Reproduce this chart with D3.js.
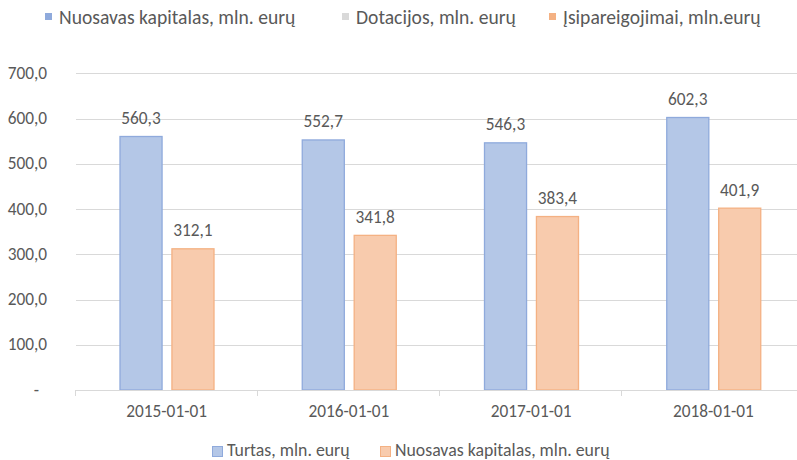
<!DOCTYPE html>
<html>
<head>
<meta charset="utf-8">
<script src="https://cdn.jsdelivr.net/npm/d3@7"></script>
<style>
  body { margin: 0; background: #fff; }
  svg { display: block; }
  text { font-family: Carlito, Lato, sans-serif; fill: #595959; }
</style>
</head>
<body>
<div id="graph"></div>
<script>
var categories = ["2015-01-01", "2016-01-01", "2017-01-01", "2018-01-01"];
var turtas = [560.3, 552.7, 546.3, 602.3];
var nuosavas = [312.1, 341.8, 383.4, 401.9];
var yTicks = [0, 100, 200, 300, 400, 500, 600, 700];

var seriesNames = ["Turtas, mln. eurų", "Nuosavas kapitalas, mln. eurų"];
var topLegendNames = ["Nuosavas kapitalas, mln. eurų", "Dotacijos, mln. eurų", "Įsipareigojimai, mln.eurų"];

var svgWidth = 797, svgHeight = 460;
var fontSize = 17.3;

var svg = d3.select("#graph").append("svg")
  .attr("width", svgWidth)
  .attr("height", svgHeight);

var x = d3.scaleBand().domain(categories).range([75.5, 804.5]);
var x1 = d3.scaleBand().domain(["turtas", "nuosavas"]).range([44.5, 138.5]).paddingInner(0.19);
var y = d3.scaleLinear().domain([0, 700]).range([390, 73.3]);

var fills = { turtas: "#b4c7e7", nuosavas: "#f8cbad" };
var strokes = { turtas: "#8faadc", nuosavas: "#f4b183" };

// gridlines
svg.append("g").selectAll("line")
  .data(yTicks.filter(function(d) { return d > 0; }))
  .join("line")
  .attr("x1", 76).attr("x2", svgWidth)
  .attr("y1", function(d) { return Math.round(y(d)) + 0.5; })
  .attr("y2", function(d) { return Math.round(y(d)) + 0.5; })
  .attr("stroke", "#d9d9d9").attr("stroke-width", 1);

// y labels
svg.append("g").selectAll("text")
  .data(yTicks)
  .join("text")
  .attr("x", function(d) { return d == 0 ? 39 : 47; })
  .attr("y", function(d) { return y(d) + 5.5; })
  .attr("text-anchor", "end")
  .style("font-size", fontSize + "px")
  .text(function(d) { return d == 0 ? "-" : d3.format(".1f")(d).replace(".", ","); });

// bars
var rows = categories.map(function(c, i) {
  return { cat: c, values: [{ key: "turtas", value: turtas[i] }, { key: "nuosavas", value: nuosavas[i] }] };
});

var groups = svg.append("g").selectAll("g")
  .data(rows)
  .join("g")
  .attr("transform", function(d) { return "translate(" + x(d.cat) + ",0)"; });

groups.selectAll("rect")
  .data(function(d) { return d.values; })
  .join("rect")
  .attr("x", function(d) { return x1(d.key); })
  .attr("y", function(d) { return y(d.value); })
  .attr("width", x1.bandwidth())
  .attr("height", function(d) { return y(0) - y(d.value); })
  .attr("fill", function(d) { return fills[d.key]; })
  .attr("stroke", function(d) { return strokes[d.key]; })
  .attr("stroke-width", 1.3);

groups.selectAll("text")
  .data(function(d) { return d.values; })
  .join("text")
  .attr("x", function(d) { return x1(d.key) + x1.bandwidth() / 2; })
  .attr("y", function(d) { return y(d.value) - 12.5; })
  .attr("text-anchor", "middle")
  .style("font-size", fontSize + "px")
  .text(function(d) { return d3.format(".1f")(d.value).replace(".", ","); });

// x axis
var xAxis = svg.append("g");
xAxis.append("line")
  .attr("x1", 75).attr("x2", svgWidth)
  .attr("y1", 390.5).attr("y2", 390.5)
  .attr("stroke", "#d9d9d9");

var boundaries = categories.map(function(c) { return x(c); }).concat([x.range()[1]]);
xAxis.selectAll("line.tick")
  .data(boundaries)
  .join("line")
  .attr("class", "tick")
  .attr("x1", function(d) { return Math.round(d) - 0.5; })
  .attr("x2", function(d) { return Math.round(d) - 0.5; })
  .attr("y1", 390).attr("y2", 396)
  .attr("stroke", "#d9d9d9");

xAxis.selectAll("text")
  .data(categories)
  .join("text")
  .attr("x", function(d) { return x(d) + x.bandwidth() / 2; })
  .attr("y", 417)
  .attr("text-anchor", "middle")
  .style("font-size", fontSize + "px")
  .text(function(d) { return d; });

// top legend (small markers)
var topColors = ["#8faadc", "#d9d9d9", "#f4b183"];
var topX = [45, 342, 549];
var topLegend = svg.append("g").selectAll("g")
  .data(topLegendNames)
  .join("g")
  .attr("transform", function(d, i) { return "translate(" + topX[i] + ",0)"; });
topLegend.append("rect")
  .attr("x", 0).attr("y", 13).attr("width", 7).attr("height", 7)
  .attr("fill", function(d, i) { return topColors[i]; });
topLegend.append("text")
  .attr("x", 14).attr("y", 23.5)
  .style("font-size", "19.6px")
  .text(function(d) { return d; });

// bottom legend
var botX = [212, 380];
var botKeys = ["turtas", "nuosavas"];
var botLegend = svg.append("g").selectAll("g")
  .data(seriesNames)
  .join("g")
  .attr("transform", function(d, i) { return "translate(" + botX[i] + ",0)"; });
botLegend.append("rect")
  .attr("x", 0.5).attr("y", 446.5).attr("width", 10).attr("height", 10)
  .attr("fill", function(d, i) { return fills[botKeys[i]]; })
  .attr("stroke", function(d, i) { return strokes[botKeys[i]]; });
botLegend.append("text")
  .attr("x", 15).attr("y", 456)
  .style("font-size", "17.8px")
  .text(function(d) { return d; });
</script>
</body>
</html>
